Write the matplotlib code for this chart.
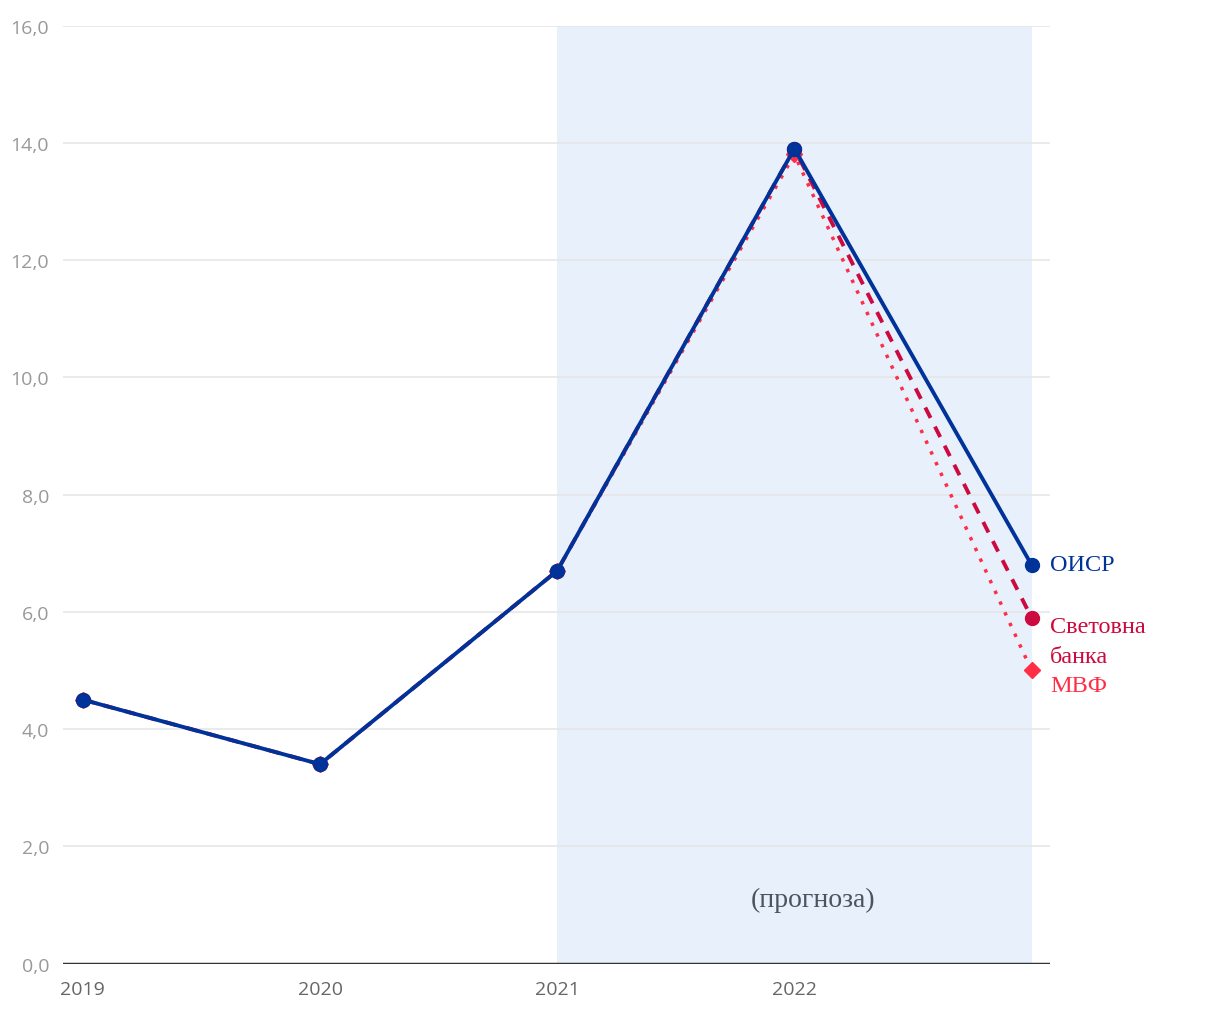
import numpy as np
import matplotlib.pyplot as plt

years = [2019, 2020, 2021, 2022, 2023]
oecd = [4.5, 3.4, 6.7, 13.9, 6.8]
world_bank = [4.5, 3.4, 6.7, 13.9, 5.9]
imf = [4.5, 3.4, 6.7, 13.8, 5.0]
y_ticks = [0, 2, 4, 6, 8, 10, 12, 14, 16]
x_ticks = [2019, 2020, 2021, 2022]

blue = "#003399"
crimson = "#cc0a3f"
red = "#ff2d46"

fig = plt.figure(figsize=(12.2, 10.2), dpi=100)
ax = fig.add_axes([0.0516, 0.0544, 0.8091, 0.9196])

# forecast band
ax.axvspan(2021, 2023, color="#e8f0fc", zorder=0, lw=0)

for v in y_ticks[1:]:
    ax.axhline(v, color="#e6e6e6", lw=1.2, zorder=1)
ax.axhline(0, color="#333333", lw=2.5, zorder=2)

ax.plot(years, imf, color=red, lw=2.5, ls=(0, (1, 2.4)), marker="D",
        markersize=8.5, zorder=3)
ax.plot(years, world_bank, color=crimson, lw=2.8, ls=(0, (3, 2.5)), marker="o",
        markersize=10, zorder=4)
ax.plot(years, oecd, color=blue, lw=2.8, marker="o", markersize=10, zorder=5)

lbl = dict(family="Liberation Serif", fontsize=17.5, va="center", ha="left")
ax.text(2023.078, oecd[-1], "ОИСР", color=blue, **lbl)
ax.text(2023.078, world_bank[-1] - 0.41, "Световна\nбанка", color=crimson,
        linespacing=1.6, **lbl)
ax.text(2023.078, imf[-1] - 0.25, "МВФ", color=red, **lbl)
ax.text(2022.08, 1.1, "(прогноза)", color="#4a5560", family="Liberation Serif",
        fontsize=20, ha="center", va="center")

ax.set_xlim(2018.916, 2023.078)
ax.set_ylim(0, 16)
ax.set_yticks(y_ticks)
ax.set_yticklabels([f"{v:.1f}".replace(".", ",") for v in y_ticks])
ax.set_xticks(x_ticks)
ax.set_xticklabels([str(x) for x in x_ticks])
ax.tick_params(axis="y", length=0, pad=10, labelsize=14, labelcolor="#999999")
ax.tick_params(axis="x", length=0, pad=12, labelsize=14, labelcolor="#666666")
for lab in ax.get_xticklabels() + ax.get_yticklabels():
    lab.set_family("Open Sans")
for s in ax.spines.values():
    s.set_visible(False)
ax.patch.set_alpha(0)

fig.savefig("out.png", dpi=100)
